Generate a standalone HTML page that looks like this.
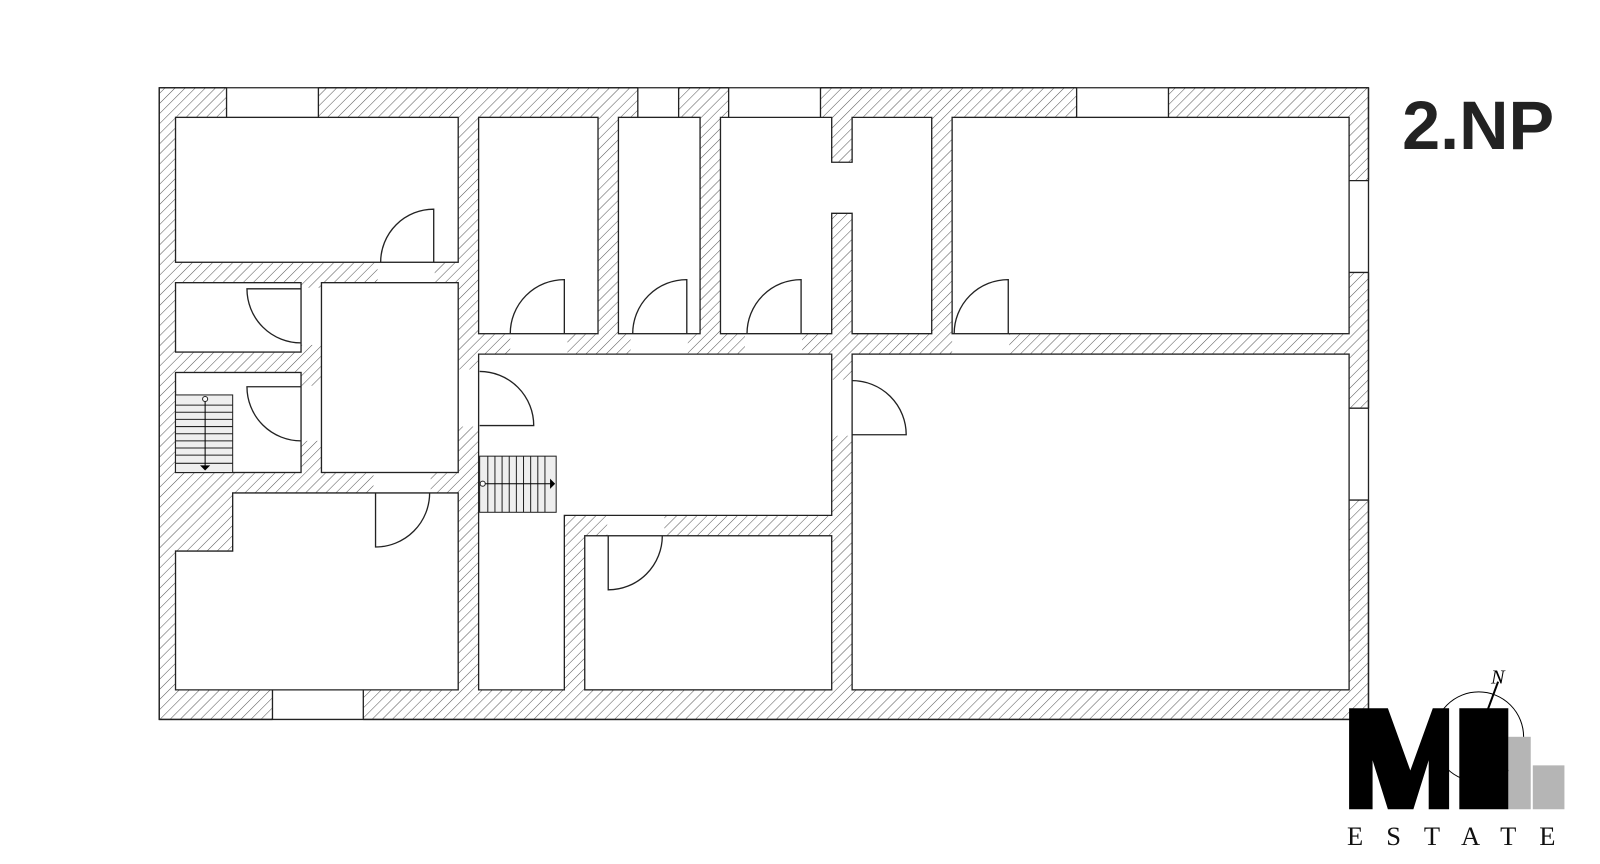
<!DOCTYPE html>
<html><head><meta charset="utf-8"><style>
html,body{margin:0;padding:0;background:#fff;width:1600px;height:864px;overflow:hidden}
</style></head><body>
<svg width="1600" height="864" viewBox="0 0 1600 864" xmlns="http://www.w3.org/2000/svg">
<defs>
<pattern id="h" patternUnits="userSpaceOnUse" width="7" height="7" patternTransform="rotate(45)">
<rect width="7" height="7" fill="#fff"/><line x1="0" y1="0" x2="0" y2="7" stroke="#555" stroke-width="1"/>
</pattern>
</defs>
<g transform="scale(1.0205)">
<g stroke="#222" stroke-width="1.3">
<rect x="156" y="86" width="1185" height="619" fill="url(#h)"/>
<g fill="#fff" stroke="none">
<rect x="222" y="85" width="90" height="31"/><rect x="625" y="85" width="40" height="31"/>
<rect x="714" y="85" width="90" height="31"/><rect x="1055" y="85" width="90" height="31"/>
<rect x="1321" y="177" width="21" height="90"/><rect x="1321" y="400" width="21" height="90"/>
<rect x="267" y="675" width="89" height="31"/>
<rect x="370" y="256" width="56" height="22"/>
<rect x="294" y="282" width="22" height="56"/><rect x="294" y="378" width="22" height="54"/>
<rect x="366" y="462" width="56" height="22"/><rect x="448" y="362" width="22" height="56"/>
<rect x="500" y="326" width="56" height="22"/><rect x="618" y="326" width="56" height="22"/>
<rect x="730" y="326" width="56" height="22"/><rect x="933" y="326" width="56" height="22"/>
<rect x="814" y="372" width="22" height="55"/><rect x="595" y="504" width="56" height="22"/>
</g>
<g fill="#fff">
<rect x="172" y="115" width="277" height="142"/>
<rect x="172" y="277" width="123" height="68"/>
<rect x="172" y="365" width="123" height="98"/>
<rect x="315" y="277" width="134" height="186"/>
<polygon points="228,483 449,483 449,676 172,676 172,540 228,540"/>
<rect x="469" y="115" width="117" height="212"/>
<rect x="606" y="115" width="80" height="212"/>
<polygon points="706,115 815,115 815,159 835,159 835,115 913,115 913,327 835,327 835,209 815,209 815,327 706,327"/>
<rect x="933" y="115" width="389" height="212"/>
<polygon points="469,347 815,347 815,505 553,505 553,676 469,676"/>
<rect x="573" y="525" width="242" height="151"/>
<rect x="835" y="347" width="487" height="329"/>
</g>
<g fill="none">
<line x1="222" y1="86" x2="222" y2="115"/><line x1="312" y1="86" x2="312" y2="115"/>
<line x1="625" y1="86" x2="625" y2="115"/><line x1="665" y1="86" x2="665" y2="115"/>
<line x1="714" y1="86" x2="714" y2="115"/><line x1="804" y1="86" x2="804" y2="115"/>
<line x1="1055" y1="86" x2="1055" y2="115"/><line x1="1145" y1="86" x2="1145" y2="115"/>
<line x1="1322" y1="177" x2="1341" y2="177"/><line x1="1322" y1="267" x2="1341" y2="267"/>
<line x1="1322" y1="400" x2="1341" y2="400"/><line x1="1322" y1="490" x2="1341" y2="490"/>
<line x1="267" y1="676" x2="267" y2="705"/><line x1="356" y1="676" x2="356" y2="705"/>
<line x1="156" y1="86" x2="156" y2="705"/><line x1="156" y1="86" x2="1341" y2="86"/><line x1="1341" y1="86" x2="1341" y2="705"/><line x1="156" y1="705" x2="1341" y2="705"/>
<path d="M425,257 L425,205 A52,52 0 0 0 373,257"/>
<path d="M295,283 L242,283 A53,53 0 0 0 295,336"/>
<path d="M295,379 L242,379 A53,53 0 0 0 295,432"/>
<path d="M368,483 L368,536 A53,53 0 0 0 421,483"/>
<path d="M470,364 A53,53 0 0 1 523,417 L470,417"/>
<path d="M553,327 L553,274 A53,53 0 0 0 500,327"/>
<path d="M673,327 L673,274 A53,53 0 0 0 620,327"/>
<path d="M785,327 L785,274 A53,53 0 0 0 732,327"/>
<path d="M988,327 L988,274 A53,53 0 0 0 935,327"/>
<path d="M835,373 A53,53 0 0 1 888,426 L835,426"/>
<path d="M596,525 L596,578 A53,53 0 0 0 649,525"/>
</g>
<rect x="172" y="387" width="56" height="76" fill="#eee" stroke-width="1"/>
<g stroke-width="1"><line x1="172" y1="397" x2="228" y2="397"/><line x1="172" y1="404" x2="228" y2="404"/><line x1="172" y1="411" x2="228" y2="411"/><line x1="172" y1="418" x2="228" y2="418"/><line x1="172" y1="425" x2="228" y2="425"/><line x1="172" y1="432" x2="228" y2="432"/><line x1="172" y1="439" x2="228" y2="439"/><line x1="172" y1="446" x2="228" y2="446"/><line x1="172" y1="454" x2="228" y2="454"/>
<line x1="201" y1="391" x2="201" y2="458" stroke="#000"/><circle cx="201" cy="391" r="2.5" fill="#fff"/>
</g>
<polygon points="196,456 206,456 201,461" fill="#000" stroke="none"/>
<rect x="470" y="447" width="75" height="55" fill="#eee" stroke-width="1"/>
<g stroke-width="1"><line x1="478" y1="447" x2="478" y2="502"/><line x1="485" y1="447" x2="485" y2="502"/><line x1="492" y1="447" x2="492" y2="502"/><line x1="499" y1="447" x2="499" y2="502"/><line x1="506" y1="447" x2="506" y2="502"/><line x1="513" y1="447" x2="513" y2="502"/><line x1="520" y1="447" x2="520" y2="502"/><line x1="527" y1="447" x2="527" y2="502"/><line x1="534" y1="447" x2="534" y2="502"/>
<line x1="473" y1="474" x2="541" y2="474" stroke="#000"/><circle cx="473" cy="474" r="2.5" fill="#fff"/></g>
<polygon points="539,469 539,479 544,474" fill="#000" stroke="none"/>
</g>
<text x="1374" y="146" font-family="Liberation Sans, sans-serif" font-weight="bold" font-size="67" fill="#222">2.NP</text>
<circle cx="1449" cy="722" r="44" fill="none" stroke="#000" stroke-width="1"/>
<rect x="1478" y="722" width="22" height="71" fill="#b5b5b5"/>
<rect x="1502" y="750" width="31" height="43" fill="#b5b5b5"/>
<polygon points="1322,694 1360,694 1382,755 1404,694 1420,694 1420,793 1400,793 1400,745 1385,793 1360,793 1345,745 1345,793 1322,793" fill="#000"/>
<rect x="1430" y="694" width="48" height="99" fill="#000"/>
<line x1="1468" y1="668" x2="1434" y2="760" stroke="#000" stroke-width="2"/>
<text x="1461" y="670" font-family="Liberation Serif, serif" font-style="italic" font-size="20">N</text>
<text x="1320" y="828" font-family="Liberation Serif, serif" font-size="26" letter-spacing="22.5" fill="#111">ESTATE</text>
</g>
</svg>
</body></html>
